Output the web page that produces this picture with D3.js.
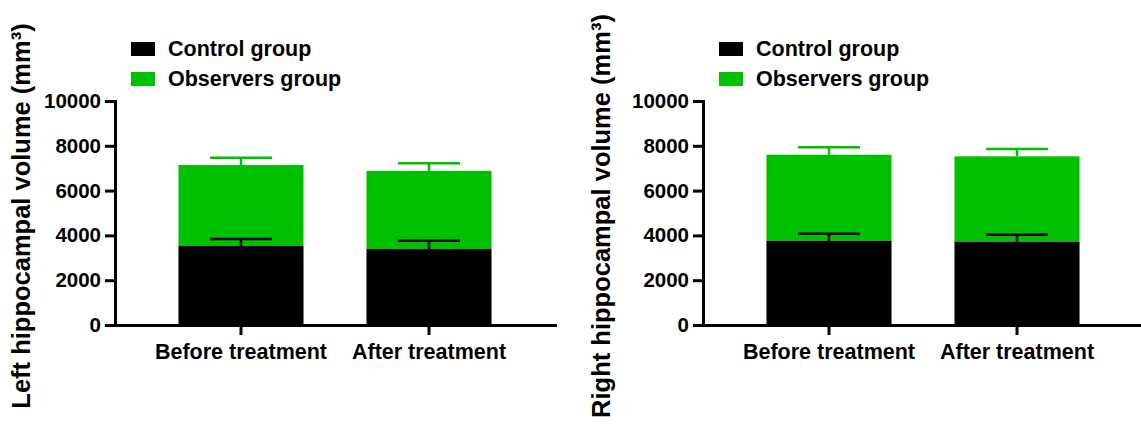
<!DOCTYPE html>
<html>
<head>
<meta charset="utf-8">
<title>Hippocampal volume</title>
<style>
  body { margin: 0; background: #fff; }
  svg text { font-family: "Liberation Sans", Arial, sans-serif; font-weight: bold; fill: #000; }
</style>
</head>
<body>
<script src="https://d3js.org/d3.v7.min.js"></script>
<script>
// categories and groups
const categories = ["Before treatment", "After treatment"];
const groups = ["Control group", "Observers group"];
const groupColors = ["#000000", "#00c000"];
const yTicks = [0, 2000, 4000, 6000, 8000, 10000];

// left hippocampus (mean, SD) - observers stacked on top of control
const leftControlMean = [3530, 3390];
const leftControlSD = [310, 370];
const leftObserversMean = [3610, 3490];
const leftObserversSD = [330, 345];

// right hippocampus
const rightControlMean = [3760, 3720];
const rightControlSD = [315, 310];
const rightObserversMean = [3840, 3810];
const rightObserversSD = [330, 330];

const W = 1141, H = 424;

const svg = d3.select("body").append("svg")
  .attr("width", W)
  .attr("height", H);

function drawPanel(x0, titleText, titleX, controlMean, controlSD, obsMean, obsSD) {
  const g = svg.append("g").attr("transform", `translate(${x0},0)`);

  const y = d3.scaleLinear().domain([0, 10000]).range([325, 101]);
  const x = d3.scaleBand().domain(categories).range([0, 440])
    .paddingInner(0.335).paddingOuter(0.3376);

  // bars
  categories.forEach((c, i) => {
    const bx = x(c), bw = x.bandwidth();
    const ctrlTop = controlMean[i];
    const obsTop = controlMean[i] + obsMean[i];

    g.append("rect")
      .attr("x", bx).attr("width", bw)
      .attr("y", y(obsTop)).attr("height", y(ctrlTop) - y(obsTop))
      .attr("fill", groupColors[1]);
    g.append("rect")
      .attr("x", bx).attr("width", bw)
      .attr("y", y(ctrlTop)).attr("height", y(0) - y(ctrlTop))
      .attr("fill", groupColors[0]);

    // error bars (upper only)
    const cx = bx + bw / 2, cap = 31;
    [[ctrlTop, controlSD[i], groupColors[0]], [obsTop, obsSD[i], groupColors[1]]].forEach(([top, sd, col]) => {
      g.append("line")
        .attr("x1", cx).attr("x2", cx)
        .attr("y1", y(top)).attr("y2", y(top + sd))
        .attr("stroke", col).attr("stroke-width", 2.5);
      g.append("line")
        .attr("x1", cx - cap).attr("x2", cx + cap)
        .attr("y1", y(top + sd)).attr("y2", y(top + sd))
        .attr("stroke", col).attr("stroke-width", 2.5);
    });
  });

  // axes
  const yAxis = g.append("g")
    .call(d3.axisLeft(y).tickValues(yTicks).tickFormat(d3.format("d"))
      .tickSize(10).tickSizeOuter(0).tickPadding(4));
  const xAxis = g.append("g")
    .attr("transform", "translate(0,325)")
    .call(d3.axisBottom(x).tickSize(10).tickSizeOuter(0).tickPadding(9));

  [yAxis, xAxis].forEach(a => {
    a.selectAll("path, line").attr("stroke", "#000").attr("stroke-width", 3);
    a.select(".domain").attr("stroke-linecap", "square");
    a.selectAll("text").attr("font-size", 20.5).attr("fill", "#000")
      .style("font-family", "'Liberation Sans', Arial, sans-serif").style("font-weight", "bold");
  });
  xAxis.selectAll("text").attr("font-size", 21.5);

  // y title
  svg.append("text")
    .attr("transform", `translate(${titleX},216) rotate(-90)`)
    .attr("text-anchor", "middle")
    .attr("font-size", 25.5)
    .text(titleText);

  // legend
  groups.forEach((name, i) => {
    const ly = 42 + i * 30;
    g.append("rect")
      .attr("x", 16).attr("y", ly)
      .attr("width", 24).attr("height", 14)
      .attr("fill", groupColors[i]);
    g.append("text")
      .attr("x", 53).attr("y", ly + 14)
      .attr("font-size", 21.5)
      .text(name);
  });
}

drawPanel(115, "Left hippocampal volume (mm³)", 30,
  leftControlMean, leftControlSD, leftObserversMean, leftObserversSD);
drawPanel(703, "Right hippocampal volume (mm³)", 610,
  rightControlMean, rightControlSD, rightObserversMean, rightObserversSD);
</script>
</body>
</html>
